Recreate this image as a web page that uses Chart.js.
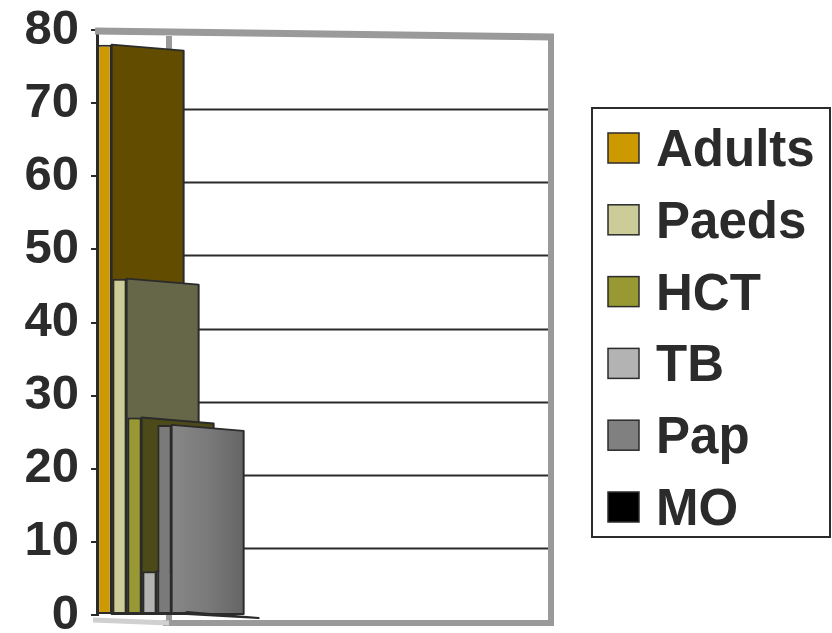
<!DOCTYPE html>
<html><head><meta charset="utf-8">
<script src="https://cdn.jsdelivr.net/npm/chart.js@4/dist/chart.umd.min.js"></script>
<style>html,body{margin:0;padding:0;background:#fff;}#wrap{width:832px;height:633px;position:relative;}</style>
</head><body><div id="wrap"><canvas id="c"></canvas></div>
<script>
// ---- data ----
const categories = ['Patients'];
const seriesNames = ['Adults', 'Paeds', 'HCT', 'TB', 'Pap', 'MO'];
const adults = [78];
const paeds = [46];
const hct = [27];
const tb = [6];
const pap = [26];
const mo = [0.4];
const yMin = 0, yMax = 80, yStep = 10;
const seriesValues = [adults, paeds, hct, tb, pap, mo];

// ---- styles ----
const frontColors = ['#CC9900', '#CCCC99', '#999933', '#B3B3B3', '#7a7a7a', '#000000'];
const sideColors = ['#614C00', '#666648', '#4D4A1A', '#707070', 'gradient', '#111111'];
const legendColors = ['#CC9900', '#CCCC99', '#999933', '#B3B3B3', '#808080', '#000000'];
const INK = '#2b2b2b';
const FONT = "'Liberation Sans', Arial, Helvetica, sans-serif";
const DEPTH = 72, SLOPE = 6, WALL_RIGHT = 551;

const threeD = {
  id: 'threeD',
  beforeDatasetsDraw(chart) {
    const ctx = chart.ctx, ys = chart.scales.y, a = chart.chartArea;
    const L = a.left, T = ys.getPixelForValue(yMax), B = ys.getPixelForValue(yMin);
    ctx.save();
    // back wall gridlines
    ctx.strokeStyle = INK; ctx.lineWidth = 2;
    for (let v = yMin + yStep; v < yMax; v += yStep) {
      const y = Math.round(ys.getPixelForValue(v) + SLOPE) + 0.5;
      ctx.beginPath(); ctx.moveTo(L + DEPTH, y); ctx.lineTo(WALL_RIGHT, y); ctx.stroke();
    }
    // wall frame
    ctx.strokeStyle = '#9a9a9a'; ctx.lineJoin = 'miter';
    ctx.lineWidth = 7;
    ctx.beginPath(); ctx.moveTo(L - 2, T + 1); ctx.lineTo(WALL_RIGHT + 3, T + SLOPE + 1); ctx.stroke();
    ctx.lineWidth = 6;
    ctx.beginPath();
    ctx.moveTo(WALL_RIGHT, T + SLOPE); ctx.lineTo(WALL_RIGHT, B + SLOPE + 2);
    ctx.lineTo(L + DEPTH - 6, B + SLOPE + 2);
    ctx.stroke();
    ctx.beginPath(); ctx.moveTo(L + DEPTH, T + SLOPE); ctx.lineTo(L + DEPTH, B + SLOPE); ctx.stroke();
    // floor edge
    ctx.strokeStyle = '#d0d0d0'; ctx.lineWidth = 5;
    ctx.beginPath(); ctx.moveTo(L - 4, B + 5); ctx.lineTo(L + DEPTH, B + SLOPE + 2); ctx.stroke();
    // side (depth) faces
    chart.data.datasets.forEach((ds, i) => {
      const el = chart.getDatasetMeta(i).data[0];
      if (!el) return;
      const xr = el.x + el.width / 2, yt = el.y, yb = el.base;
      let fill = sideColors[i];
      if (fill === 'gradient') {
        const g = ctx.createLinearGradient(xr, 0, xr + DEPTH, 0);
        g.addColorStop(0, '#878787');
        g.addColorStop(0.5, '#7a7a7a');
        g.addColorStop(1, '#656565');
        fill = g;
      }
      ctx.fillStyle = fill; ctx.strokeStyle = INK; ctx.lineWidth = 2; ctx.lineJoin = 'round';
      ctx.beginPath();
      ctx.moveTo(xr, yt); ctx.lineTo(xr + DEPTH, yt + SLOPE);
      ctx.lineTo(xr + DEPTH, Math.max(yb, yt + SLOPE)); ctx.lineTo(xr, yb);
      ctx.closePath(); ctx.fill(); ctx.stroke();
    });
    ctx.restore();
  },
  afterDraw(chart) {
    const ctx = chart.ctx;
    ctx.save();
    // legend box
    ctx.strokeStyle = INK; ctx.lineWidth = 2;
    ctx.strokeRect(592, 108, 238, 429);
    ctx.font = 'bold 51px ' + FONT;
    ctx.textBaseline = 'alphabetic'; ctx.textAlign = 'left';
    seriesNames.forEach((name, i) => {
      const cy = 148 + i * 71.8;
      ctx.fillStyle = legendColors[i];
      ctx.fillRect(608, cy - 15, 31, 30);
      ctx.strokeStyle = INK; ctx.lineWidth = 1.5;
      ctx.strokeRect(608, cy - 15, 31, 30);
      ctx.fillStyle = INK;
      ctx.fillText(name, 656, cy + 18);
    });
    ctx.restore();
  }
};

new Chart(document.getElementById('c'), {
  type: 'bar',
  data: {
    labels: categories,
    datasets: seriesNames.map((name, i) => ({
      label: name,
      data: seriesValues[i],
      backgroundColor: frontColors[i],
      borderColor: INK,
      borderWidth: 2,
      borderSkipped: false,
      categoryPercentage: 1,
      barPercentage: 0.95
    }))
  },
  options: {
    responsive: true, maintainAspectRatio: false, animation: false,
    layout: { padding: { top: 30, bottom: 18, left: 1, right: 645 } },
    plugins: { legend: { display: false }, tooltip: { enabled: false } },
    scales: {
      x: { display: false, offset: true },
      y: {
        min: yMin, max: yMax,
        ticks: { stepSize: yStep, color: INK, padding: 12, font: { family: FONT, size: 49, weight: 'bold' } },
        grid: { drawOnChartArea: false, color: INK, lineWidth: 2, tickLength: 6 },
        border: { color: INK, width: 3 },
        afterFit(s) { s.width = 96; s.paddingTop = 0; s.paddingBottom = 0; }
      }
    }
  },
  plugins: [threeD]
});
</script>
</body></html>
